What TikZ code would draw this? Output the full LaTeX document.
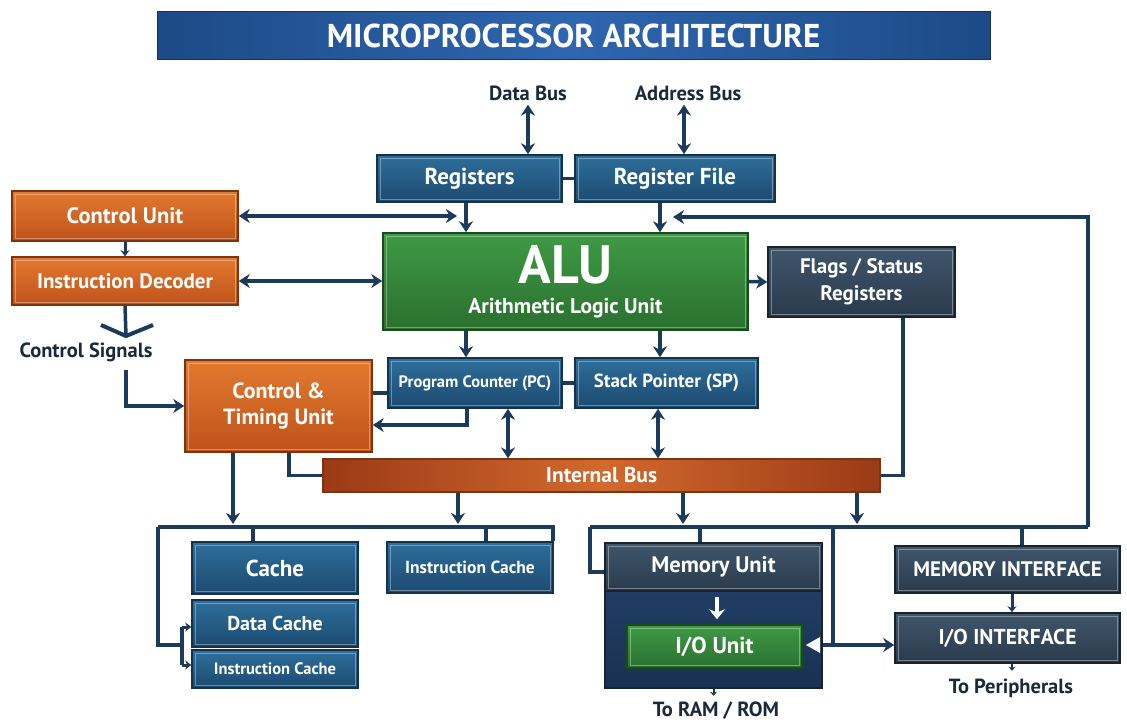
\documentclass[tikz,border=0pt]{standalone}
\usepackage{fontspec}
\setmainfont{PT Sans}
\usetikzlibrary{arrows.meta,calc}
\definecolor{lnc}{HTML}{1C3B5A}
\definecolor{labc}{HTML}{1B2A3A}
\definecolor{blT}{HTML}{2E6F9B}
\definecolor{blB}{HTML}{1C4A70}
\definecolor{blD}{HTML}{15324A}
\definecolor{orT}{HTML}{E27A30}
\definecolor{orB}{HTML}{C0521A}
\definecolor{orD}{HTML}{7B3512}
\definecolor{grT}{HTML}{3F9A45}
\definecolor{grB}{HTML}{2A702F}
\definecolor{grD}{HTML}{1A4A1E}
\definecolor{slT}{HTML}{40566B}
\definecolor{slB}{HTML}{2A3A4C}
\definecolor{slD}{HTML}{18232E}
\definecolor{nvT}{HTML}{24436D}
\definecolor{nvB}{HTML}{1A3152}
\definecolor{ttL}{HTML}{1D4A86}
\definecolor{ttM}{HTML}{2F66B0}
\definecolor{ibL}{HTML}{9A3A17}
\definecolor{ibM}{HTML}{D2692D}
\newcommand{\fs}[1]{\fontsize{#1}{#1}\selectfont}
\begin{document}
\begin{tikzpicture}[x=1pt,y=-1pt,
  basebox/.style={rectangle, inner sep=0pt, align=center, text=white, line width=1.5pt,
    font=\bfseries\fs{21},
    path picture={\draw[white,opacity=0.35,line width=0.8pt]
      ([xshift=3pt,yshift=-3pt]path picture bounding box.north west) rectangle
      ([xshift=-3pt,yshift=3pt]path picture bounding box.south east);}},
  bluebox/.style={basebox, top color=blT, bottom color=blB, draw=blD},
  orbox/.style={basebox, top color=orT, bottom color=orB, draw=orD},
  grbox/.style={basebox, top color=grT, bottom color=grB, draw=grD},
  slbox/.style={basebox, top color=slT, bottom color=slB, draw=slD},
  nvbox/.style={rectangle, inner sep=0pt, top color=nvT, bottom color=nvB, draw=slD, line width=1.5pt},
  lab/.style={text=labc, font=\bfseries\fs{20.5}, inner sep=0pt},
  wire/.style={lnc, line width=3.5pt},
  arr/.style={wire, -{Stealth[length=11pt,width=14pt]}},
  darr/.style={wire, {Stealth[length=11pt,width=14pt]}-{Stealth[length=11pt,width=14pt]}},
  sarr/.style={wire, line width=3pt, -{Stealth[length=6pt,width=9pt]}}
]
\useasboundingbox[fill=white] (0,0) rectangle (1127,722);

% title
\node[rectangle, inner sep=0pt, minimum width=833pt, minimum height=48pt,
  left color=ttL, right color=ttL, middle color=ttM, draw=ttL!70!black, line width=1pt,
  text=white, font=\bfseries\fs{33}] (title) at (573.5,36) {MICROPROCESSOR ARCHITECTURE};

% labels
\node[lab] (databus) at (528,93) {Data Bus};
\node[lab] (addrbus) at (688,93) {Address Bus};
\node[lab] (ctrlsig) at (86,352) {Control Signals};
\node[lab] (torom) at (716,711) {To RAM / ROM};
\node[lab] (toper) at (1011,688) {To Peripherals};

% boxes
\node[bluebox, minimum width=185pt, minimum height=47pt, font=\bfseries\fs{23}] (reg) at (469.5,178.5) {Registers};
\node[bluebox, minimum width=200pt, minimum height=47pt, font=\bfseries\fs{23}] (regfile) at (675,178.5) {Register File};
\node[grbox, minimum width=365pt, minimum height=97pt, font=\bfseries\fs{21.5}] (alu) at (565.5,281.5)
  {{\fs{54}ALU}\\[8pt]Arithmetic Logic Unit};
\node[orbox, minimum width=226pt, minimum height=50pt, font=\bfseries\fs{22.5}] (cu) at (125,216) {Control Unit};
\node[orbox, minimum width=226pt, minimum height=48pt] (id) at (125,281) {Instruction Decoder};
\node[slbox, minimum width=187pt, minimum height=70pt] (flags) at (861.5,282) {Flags / Status\\[6pt]Registers};
\node[bluebox, minimum width=174pt, minimum height=50pt, font=\bfseries\fs{16.5}] (pc) at (475,383) {Program Counter (PC)};
\node[bluebox, minimum width=183pt, minimum height=50pt, font=\bfseries\fs{19}] (sp) at (666.5,383) {Stack Pointer (SP)};
\node[orbox, minimum width=187pt, minimum height=92pt, font=\bfseries\fs{22}] (ctu) at (278.5,406) {Control \&\\[4pt]Timing Unit};
\node[rectangle, inner sep=0pt, minimum width=557pt, minimum height=33pt,
  left color=ibL, right color=ibL, middle color=ibM, draw=orD, line width=1.2pt,
  text=white, font=\bfseries\fs{21.5}] (ibus) at (601.5,475.5) {Internal Bus};
\node[bluebox, minimum width=166pt, minimum height=52pt, font=\bfseries\fs{23}] (cache) at (275,568) {Cache};
\node[bluebox, minimum width=166pt, minimum height=47pt, font=\bfseries\fs{20}] (dcache) at (275,623.5) {Data Cache};
\node[bluebox, minimum width=166pt, minimum height=38pt, font=\bfseries\fs{16.5}] (icache2) at (275,669) {Instruction Cache};
\node[bluebox, minimum width=166pt, minimum height=51pt, font=\bfseries\fs{17.5}] (icache) at (470,567.5) {Instruction Cache};
\node[nvbox, minimum width=217pt, minimum height=145pt] (memouter) at (713.5,615.5) {};
\node[slbox, minimum width=217pt, minimum height=48pt, font=\bfseries\fs{22.5}] (memunit) at (713.5,567) {Memory Unit};
\node[grbox, minimum width=175pt, minimum height=43pt, font=\bfseries\fs{23}] (iounit) at (714.5,646.5) {I/O Unit};
\node[slbox, minimum width=225pt, minimum height=47pt] (memif) at (1007.5,569.5) {MEMORY INTERFACE};
\node[slbox, minimum width=225pt, minimum height=50pt, font=\bfseries\fs{21.5}] (ioif) at (1007.5,638) {I/O INTERFACE};

% coordinates
\coordinate (cA) at (466,0);
\coordinate (cB) at (660,0);
\coordinate (cC) at (508,0);
\coordinate (cuA) at (457,217);
\coordinate (rfA) at (673,217);
\coordinate (rTop) at (1088,217);
\coordinate (rbL) at (590,527);
\coordinate (rbR) at (1088,527);
\coordinate (lbL) at (158,527);
\coordinate (lbR) at (553,527);
\coordinate (t253) at (253,527);
\coordinate (t486) at (486,527);
\coordinate (t700) at (700,527);
\coordinate (t1022) at (1022,527);
\coordinate (j833) at (833,527);
\coordinate (iojn) at (833,645);
\coordinate (mjy) at (600,572);
\coordinate (brk) at (182,645);
\coordinate (brT) at (182,627);
\coordinate (brB) at (182,665);
\coordinate (cs) at (126,370);
\coordinate (chL) at (101,325);
\coordinate (chP) at (126,336);
\coordinate (chR) at (153,325);
\coordinate (c233) at (233,0);
\coordinate (c289) at (289,0);
\coordinate (c458) at (458,0);
\coordinate (c683) at (683,0);
\coordinate (c857) at (857,0);
\coordinate (c903) at (903,0);
\coordinate (c1012) at (1012,0);
\coordinate (wa) at (717,0);
\coordinate (lby) at (0,524);

% top buses
\draw[darr] ([yshift=-4pt]databus.south) -- (databus.south |- reg.north);
\draw[darr] ([yshift=-4pt,xshift=-4pt]addrbus.south) -- ([xshift=-4pt]addrbus.south |- regfile.north);
\draw[wire] (reg.east) -- (regfile.west);
\draw[arr] (cA |- reg.south) -- (cA |- alu.north);
\draw[arr] (cB |- regfile.south) -- (cB |- alu.north);
\draw[darr] (cu.east) -- (cu.east -| cuA);
\draw[wire] (rbL) -- (rbR);
\draw[arr] (rbR) -- (rTop) -- (rfA);

% control side
\draw[sarr] (cu.south) -- (id.north);
\draw[darr] (id.east) -- (id.east -| alu.west);
\draw[wire] (id.south) -- (chP);
\draw[wire, line width=4pt, line join=miter] (chL) -- (chP) -- (chR);
\draw[arr] (cs) |- (ctu.west);

% ALU
\draw[arr] (alu.east) -- (flags.west);
\draw[arr] (cA |- alu.south) -- (cA |- pc.north);
\draw[arr] (cB |- alu.south) -- (cB |- sp.north);
\draw[wire] (pc.east) -- (sp.west);
\draw[wire] ([yshift=-10pt]pc.west) -- ([yshift=-10pt]pc.west -| ctu.east);
\draw[arr] ([xshift=-8pt]pc.south) |- ([yshift=-19pt]ctu.east);
\draw[darr] (cC |- pc.south) -- (cC |- ibus.north);
\draw[darr] ([xshift=-8.5pt]sp.south) -- ([xshift=-8.5pt]sp.south |- ibus.north);
\draw[wire] (c903 |- flags.south) |- (ibus.east);

% CTU down
\draw[arr] (c233 |- ctu.south) -- (c233 |- lby);
\draw[wire] (c289 |- ctu.south) |- (ibus.west);
\draw[arr] (c458 |- ibus.south) -- (c458 |- lby);
\draw[arr] (c683 |- ibus.south) -- (c683 |- lby);
\draw[arr] (c857 |- ibus.south) -- (c857 |- lby);

% left cache group
\draw[wire] (lbL) -- (lbR) -- (lbR |- icache.north);
\draw[wire] (t253) -- (t253 |- cache.north);
\draw[wire] (t486) -- (t486 |- icache.north);
\draw[wire] (lbL) |- (brk);
\draw[wire] (brT) -- (brB);
\draw[sarr] (brT) -- (brT -| dcache.west);
\draw[sarr] (brB) -- (brB -| icache2.west);

% right group
\draw[wire] (rbL) |- (mjy -| memouter.west);
\draw[wire] (t700) -- (t700 |- memouter.north);
\draw[wire] (t1022) -- (t1022 |- memif.north);
\draw[wire] (j833) -- (iojn);
\draw[wire] (iojn) -- (iojn -| memouter.east);
\draw[arr] (iojn) -- (iojn -| ioif.west);
\fill[white] (820,637) -- (806,645) -- (820,653) -- cycle;
\draw[white, line width=4.5pt, -{Stealth[length=10pt,width=16pt]}, shorten <=5pt, shorten >=5pt] (wa |- memunit.south) -- (wa |- iounit.north);
\draw[sarr] (c1012 |- memif.south) -- (c1012 |- ioif.north);
\draw[lnc, line width=2pt, -{Stealth[length=4pt,width=7pt]}] (memouter.south) -- ++(0,7);
\draw[lnc, line width=2pt, -{Stealth[length=4pt,width=7pt]}] (c1012 |- ioif.south) -- ++(0,7);
\end{tikzpicture}
\end{document}
